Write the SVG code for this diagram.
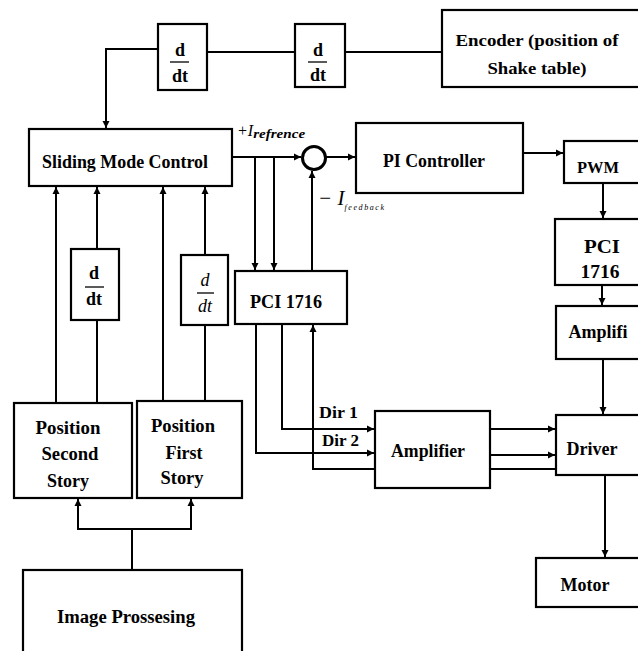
<svg xmlns="http://www.w3.org/2000/svg" width="638" height="651" viewBox="0 0 638 651">
  <defs>
    <marker id="arr" markerUnits="userSpaceOnUse" markerWidth="8" markerHeight="8" refX="7" refY="4" orient="auto">
      <path d="M0,0.5 L7,4 L0,7.5 z" fill="#000"/>
    </marker>
    <style>
      .box { fill: #fff; stroke: #000; stroke-width: 2.2; }
      .ln { fill: none; stroke: #000; stroke-width: 2; }
      .ar { fill: none; stroke: #000; stroke-width: 2; marker-end: url(#arr); }
      .t { font-family: "Liberation Serif", "Times New Roman", serif; font-weight: bold; font-size: 18px; fill: #000; text-anchor: middle; }
      .ti { font-family: "Liberation Serif", "Times New Roman", serif; font-style: italic; fill: #000; }
      .bar { stroke: #000; stroke-width: 1.3; }
    </style>
  </defs>
  <rect x="0" y="0" width="638" height="651" fill="#fff"/>

  <g id="connectors">
    <polyline class="ar" points="158,49 106,49 106,128"/>
    <line class="ln" x1="207" y1="52" x2="295" y2="52"/>
    <line class="ln" x1="345" y1="52" x2="442" y2="52"/>
    <line class="ar" x1="232" y1="157" x2="301" y2="157"/>
    <line class="ar" x1="255" y1="157" x2="255" y2="270"/>
    <line class="ar" x1="274" y1="157" x2="274" y2="270"/>
    <line class="ar" x1="312" y1="271" x2="312" y2="171"/>
    <line class="ar" x1="325" y1="157" x2="355" y2="157"/>
    <line class="ar" x1="523" y1="153" x2="563" y2="153"/>
    <line class="ar" x1="603" y1="183" x2="603" y2="218"/>
    <line class="ar" x1="602" y1="285" x2="602" y2="305"/>
    <line class="ar" x1="603" y1="359" x2="603" y2="414"/>
    <line class="ar" x1="605" y1="475" x2="605" y2="557"/>
    <line class="ar" x1="56" y1="403" x2="56" y2="187"/>
    <line class="ar" x1="97" y1="249" x2="97" y2="187"/>
    <line class="ln" x1="97" y1="320" x2="97" y2="403"/>
    <line class="ar" x1="163" y1="401" x2="163" y2="187"/>
    <line class="ar" x1="205" y1="255" x2="205" y2="187"/>
    <line class="ln" x1="205" y1="325" x2="205" y2="401"/>
    <polyline class="ln" points="132,570 132,529"/>
    <polyline class="ar" points="132,529 78,529 78,499"/>
    <polyline class="ar" points="132,529 191,529 191,499"/>
    <polyline class="ar" points="282,324 282,429 374,429"/>
    <polyline class="ar" points="256,324 256,453 374,453"/>
    <polyline class="ar" points="375,469 313,469 313,325"/>
    <line class="ar" x1="490" y1="429" x2="555" y2="429"/>
    <line class="ar" x1="490" y1="455" x2="555" y2="455"/>
    <line class="ln" x1="490" y1="469" x2="556" y2="469"/>
    <text x="319" y="418" class="t" style="text-anchor:start;font-size:17px" textLength="39" lengthAdjust="spacingAndGlyphs">Dir 1</text>
    <text x="322" y="446" class="t" style="text-anchor:start;font-size:17px" textLength="37" lengthAdjust="spacingAndGlyphs">Dir 2</text>
    <text x="237" y="136" class="ti" style="font-size:16px">+I<tspan font-size="12" font-weight="bold" dy="2" textLength="52" lengthAdjust="spacingAndGlyphs">refrence</tspan></text>
    <text x="318" y="205" class="ti" style="font-size:21px">− I<tspan font-size="8" dy="5" letter-spacing="1.6">feedback</tspan></text>
  </g>

  <g id="ddt1">
    <rect class="box" x="158" y="24" width="49" height="66"/>
    <text x="180" y="56" class="t">d</text>
    <line class="bar" x1="170" y1="62" x2="189" y2="62"/>
    <text x="180" y="82" class="t">dt</text>
  </g>
  <g id="ddt2">
    <rect class="box" x="295" y="24" width="50" height="63"/>
    <text x="318" y="56" class="t">d</text>
    <line class="bar" x1="308" y1="62" x2="327" y2="62"/>
    <text x="318" y="81" class="t">dt</text>
  </g>
  <g id="encoder">
    <rect class="box" x="442" y="10" width="203" height="77"/>
    <text x="537" y="46" class="t" style="font-size:17px" textLength="163" lengthAdjust="spacingAndGlyphs">Encoder (position of</text>
    <text x="537" y="74" class="t" style="font-size:17px" textLength="99" lengthAdjust="spacingAndGlyphs">Shake table)</text>
  </g>
  <g id="smc">
    <rect class="box" x="29" y="129" width="203" height="57"/>
    <text x="125" y="168" class="t" textLength="166" lengthAdjust="spacingAndGlyphs">Sliding Mode Control</text>
  </g>
  <g id="sum">
    <circle cx="314" cy="158" r="11.5" fill="#fff" stroke="#000" stroke-width="3"/>
  </g>
  <g id="pi">
    <rect class="box" x="356" y="123" width="167" height="70"/>
    <text x="434" y="167" class="t" textLength="102" lengthAdjust="spacingAndGlyphs">PI Controller</text>
  </g>
  <g id="pwm">
    <rect class="box" x="564" y="141" width="81" height="42"/>
    <text x="598" y="173" class="t" style="font-size:17px" textLength="42" lengthAdjust="spacingAndGlyphs">PWM</text>
  </g>
  <g id="pci-right">
    <rect class="box" x="555" y="219" width="90" height="66"/>
    <text x="602" y="253" class="t" textLength="36" lengthAdjust="spacingAndGlyphs">PCI</text>
    <text x="600" y="278" class="t" textLength="39" lengthAdjust="spacingAndGlyphs">1716</text>
  </g>
  <g id="amplifi">
    <rect class="box" x="556" y="306" width="89" height="53"/>
    <text x="598" y="338" class="t" textLength="59" lengthAdjust="spacingAndGlyphs">Amplifi</text>
  </g>
  <g id="driver">
    <rect class="box" x="556" y="415" width="89" height="60"/>
    <text x="592" y="455" class="t" textLength="51" lengthAdjust="spacingAndGlyphs">Driver</text>
  </g>
  <g id="motor">
    <rect class="box" x="536" y="558" width="109" height="49"/>
    <text x="585" y="591" class="t" textLength="49" lengthAdjust="spacingAndGlyphs">Motor</text>
  </g>
  <g id="pci-center">
    <rect class="box" x="235" y="271" width="112" height="53"/>
    <text x="286" y="308" class="t" textLength="72" lengthAdjust="spacingAndGlyphs">PCI 1716</text>
  </g>
  <g id="ddt3">
    <rect class="box" x="71" y="249" width="48" height="71"/>
    <text x="94" y="279" class="t">d</text>
    <line class="bar" x1="85" y1="287" x2="104" y2="287"/>
    <text x="94" y="305" class="t">dt</text>
  </g>
  <g id="ddt4">
    <rect class="box" x="181" y="255" width="47" height="70"/>
    <text x="205" y="286" class="ti" style="font-size:18px;text-anchor:middle">d</text>
    <line class="bar" x1="197" y1="293" x2="214" y2="293"/>
    <text x="205" y="312" class="ti" style="font-size:18px;text-anchor:middle">dt</text>
  </g>
  <g id="pos-second">
    <rect class="box" x="14" y="403" width="118" height="95"/>
    <text x="68" y="434" class="t" textLength="65" lengthAdjust="spacingAndGlyphs">Position</text>
    <text x="70" y="460" class="t" textLength="57" lengthAdjust="spacingAndGlyphs">Second</text>
    <text x="68" y="487" class="t" textLength="42" lengthAdjust="spacingAndGlyphs">Story</text>
  </g>
  <g id="pos-first">
    <rect class="box" x="137" y="401" width="105" height="97"/>
    <text x="183" y="432" class="t" textLength="64" lengthAdjust="spacingAndGlyphs">Position</text>
    <text x="184" y="459" class="t" textLength="37" lengthAdjust="spacingAndGlyphs">First</text>
    <text x="182" y="484" class="t" textLength="43" lengthAdjust="spacingAndGlyphs">Story</text>
  </g>
  <g id="amplifier">
    <rect class="box" x="375" y="411" width="115" height="77"/>
    <text x="428" y="457" class="t" textLength="74" lengthAdjust="spacingAndGlyphs">Amplifier</text>
  </g>
  <g id="image-processing">
    <rect class="box" x="23" y="570" width="219" height="90"/>
    <text x="126" y="623" class="t" textLength="138" lengthAdjust="spacingAndGlyphs">Image Prossesing</text>
  </g>
</svg>
